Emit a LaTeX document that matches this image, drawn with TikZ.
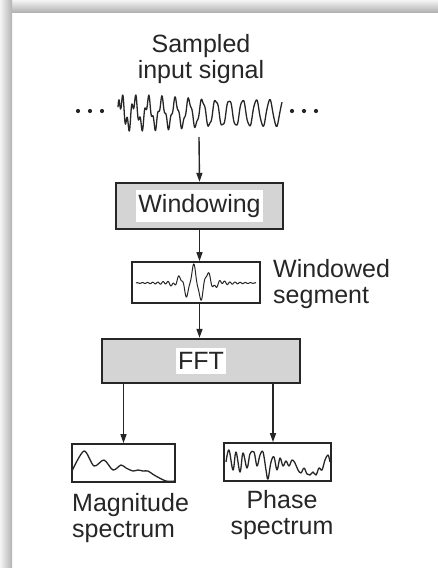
\documentclass[tikz,border=0pt]{standalone}
\usepackage{fontspec}
\setmainfont{Liberation Sans}
\usetikzlibrary{arrows.meta}
\definecolor{ink}{HTML}{262626}
\definecolor{boxfill}{HTML}{D4D4D4}
\tikzset{
  lbl/.style={font=\fontsize{25}{25.5}\selectfont, text=ink, inner sep=0pt},
  procbox/.style={draw=ink, line width=2.3pt, fill=boxfill, inner sep=0pt},
  procText/.style={font=\fontsize{25}{25.5}\selectfont, text=ink, fill=white, inner xsep=2pt, inner ysep=4pt},
  specbox/.style={draw=ink, line width=1.7pt, fill=white, inner sep=0pt},
  arr/.style={draw=ink, line width=1.4pt, -{Triangle[length=9pt,width=6pt]}},
  wave/.style={draw=ink, line width=1.3pt, line join=round},
}
\begin{document}
\begin{tikzpicture}[x=1pt, y=-1pt]
\useasboundingbox (0,0) rectangle (438,568);
\fill[white] (0,0) rectangle (438,568);
% inner shadow at top and left
\shade[top color=gray!8, bottom color=gray!60] (0,0) rectangle (438,12);
\shade[left color=gray!8, right color=gray!60] (0,0) rectangle (12,568);

% title
\node[lbl, align=center] (title) at (201,59) {Sampled\\input signal};

% sampled input signal
\foreach \xx in {78,90,102,292,304,316}
  \fill[ink] (\xx,111) circle (2.1);
\draw[wave] plot[domain=118:282, samples=330]
  (\x, {113 - 13*sin(26.7*(\x-118)) - 9*exp(-(\x-118)/60)*sin(83*(\x-118)+40)});
\coordinate (sig) at (199,137);

% windowing
\node[procbox, minimum width=167pt, minimum height=46pt] (win) at (199.5,206) {};
\node[procText] (wintext) at (win.center) {Windowing};

% windowed segment
\node[specbox, minimum width=128pt, minimum height=41pt] (seg) at (196,282.5) {};
\draw[wave, line width=1pt] plot[domain=136:256, samples=300]
  (\x, {283 - 17*exp(-((\x-196)/16)^2)*sin(25*(\x-190)) - 2.5*sin(70*(\x-136))*exp(-((\x-196)/40)^2)});
\node[lbl, align=left, anchor=west] (segtext) at (273,284) {Windowed\\segment};

% FFT
\node[procbox, minimum width=198pt, minimum height=44pt] (fft) at (201,361) {};
\node[procText] (ffttext) at (fft.center) {FFT};

% spectra
\node[specbox, minimum width=103pt, minimum height=38pt] (mag) at (123.5,463) {};
\node[specbox, minimum width=107pt, minimum height=38pt] (phase) at (277.5,462) {};
\draw[wave] plot[smooth, tension=0.5] coordinates {
  (72,471) (84,451) (94,466) (104,460) (113,470) (121,465) (126,468)
  (133,471) (138,470) (143,471) (148,471) (154,475) (166,481) (175,481)};
\draw[wave] plot[smooth, tension=0.6] coordinates {
  (226,462) (229,450) (233,470) (236,452) (240,472) (243,453) (247,468)
  (250,454) (254,452) (257,466) (260,455) (263,452) (266,470) (268,479)
  (271,462) (274,457) (277,470) (280,458) (283,466) (286,461) (289,466)
  (292,460) (295,463) (298,470) (301,473) (304,468) (307,474) (310,475)
  (313,472) (316,475) (319,468) (322,470) (325,460) (328,455) (330,462)};
\node[lbl, align=left, anchor=west] (magtext) at (72,518) {Magnitude\\spectrum};
\node[lbl, align=center] (phasetext) at (282,515) {Phase\\spectrum};

% connectors
\draw[arr] (sig) -- (win.north);
\draw[arr] (win.south) -- (win.south |- seg.north);
\draw[arr] (win.south |- seg.south) -- (win.south |- fft.north);
\draw[arr] (fft.south -| mag.north) -- (mag.north);
\draw[arr] ([xshift=-4.5pt]phase.north |- fft.south) -- ([xshift=-4.5pt]phase.north);
\end{tikzpicture}
\end{document}
